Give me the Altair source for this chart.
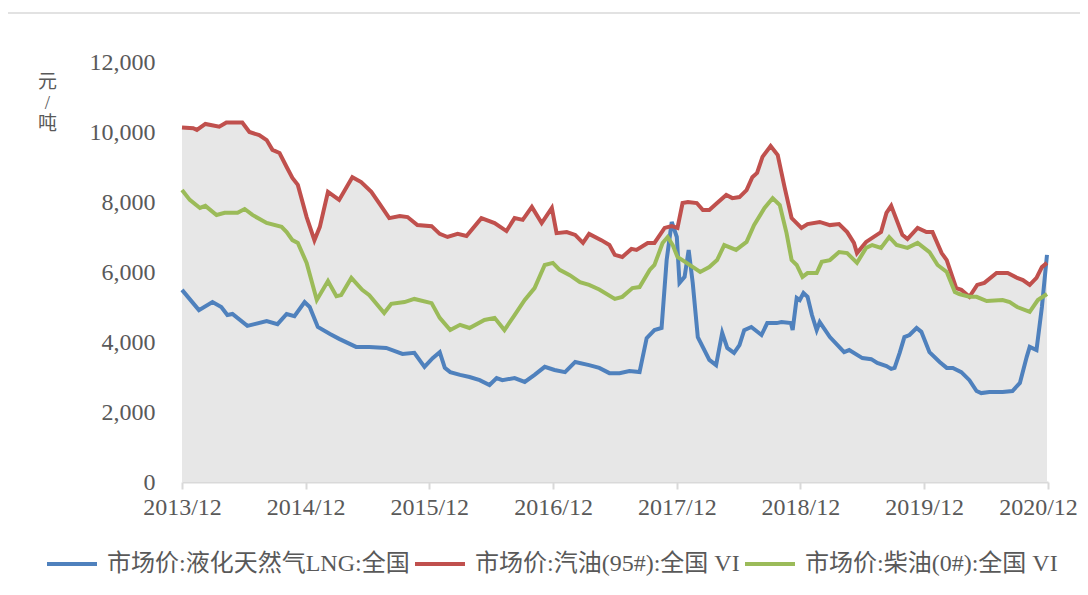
import altair as alt
import pandas as pd

# ---------------- data ----------------
lng_dates = [
    "2013-12-01", "2014-01-20", "2014-03-01", "2014-03-27", "2014-04-14", "2014-04-29",
    "2014-06-12", "2014-08-08", "2014-09-09", "2014-10-06", "2014-10-29", "2014-11-28",
    "2014-12-13", "2015-01-06", "2015-02-11", "2015-03-10", "2015-04-29", "2015-06-07",
    "2015-07-27", "2015-09-13", "2015-10-18", "2015-11-17", "2015-12-11", "2016-01-01",
    "2016-01-16", "2016-02-01", "2016-03-01", "2016-03-29", "2016-04-28", "2016-05-27",
    "2016-06-17", "2016-07-04", "2016-08-09", "2016-09-08", "2016-10-07", "2016-11-06",
    "2016-12-05", "2017-01-05", "2017-02-04", "2017-03-17", "2017-04-16", "2017-05-16",
    "2017-06-15", "2017-07-14", "2017-08-13", "2017-09-03", "2017-09-26", "2017-10-17",
    "2017-11-01", "2017-11-16", "2017-12-01", "2017-12-09", "2017-12-24", "2018-01-05",
    "2018-01-17", "2018-02-01", "2018-03-07", "2018-03-27", "2018-04-14", "2018-04-29",
    "2018-05-19", "2018-06-04", "2018-06-18", "2018-07-09", "2018-08-08", "2018-08-25",
    "2018-09-22", "2018-10-06", "2018-11-03", "2018-11-08", "2018-11-20", "2018-11-29",
    "2018-12-10", "2018-12-22", "2019-01-04", "2019-01-18", "2019-01-27", "2019-02-26",
    "2019-04-09", "2019-04-24", "2019-06-02", "2019-06-28", "2019-07-16", "2019-08-12",
    "2019-08-26", "2019-09-05", "2019-09-20", "2019-10-04", "2019-10-19", "2019-11-09",
    "2019-11-23", "2019-12-17", "2020-01-16", "2020-02-06", "2020-02-24", "2020-03-20",
    "2020-04-13", "2020-05-04", "2020-05-18", "2020-06-11", "2020-07-20", "2020-08-18",
    "2020-09-09", "2020-09-29", "2020-10-08", "2020-10-28", "2020-11-13", "2020-11-28",
]
lng_values = [
    5490, 4910, 5140, 5000, 4770, 4800,
    4460, 4600, 4510, 4800, 4740, 5140,
    5000, 4430, 4230, 4090, 3860, 3860,
    3830, 3660, 3690, 3290, 3540, 3710,
    3260, 3140, 3060, 3000, 2910, 2770,
    2970, 2910, 2970, 2860, 3060, 3290,
    3200, 3140, 3430, 3340, 3260, 3110,
    3110, 3170, 3140, 4110, 4340, 4400,
    6340, 7430, 7000, 5690, 5860, 6630,
    5690, 4140, 3490, 3340, 4260, 3830,
    3690, 3910, 4340, 4430, 4200, 4540,
    4540, 4570, 4540, 4340, 5260, 5200,
    5400, 5290, 4770, 4340, 4570, 4140,
    3710, 3770, 3540, 3510, 3400, 3310,
    3230, 3260, 3690, 4140, 4200, 4400,
    4290, 3710, 3430, 3260, 3260, 3140,
    2910, 2600, 2540, 2570, 2570, 2600,
    2830, 3570, 3860, 3770, 5000, 6490,
]

gas_dates = [
    "2013-12-01", "2014-01-03", "2014-01-14", "2014-02-08", "2014-03-21", "2014-04-11",
    "2014-05-28", "2014-06-18", "2014-07-17", "2014-08-08", "2014-08-25", "2014-09-15",
    "2014-10-06", "2014-10-23", "2014-11-08", "2014-12-04", "2014-12-27", "2015-01-12",
    "2015-02-05", "2015-03-10", "2015-04-18", "2015-05-14", "2015-06-13", "2015-07-06",
    "2015-08-05", "2015-09-05", "2015-09-28", "2015-10-27", "2015-12-08", "2016-01-01",
    "2016-01-24", "2016-02-23", "2016-03-20", "2016-05-03", "2016-06-11", "2016-07-16",
    "2016-08-09", "2016-09-02", "2016-09-29", "2016-10-28", "2016-11-27", "2016-12-11",
    "2017-01-10", "2017-02-04", "2017-02-27", "2017-03-17", "2017-04-22", "2017-05-16",
    "2017-06-01", "2017-06-23", "2017-07-20", "2017-08-04", "2017-09-06", "2017-09-26",
    "2017-10-26", "2017-11-16", "2017-12-03", "2017-12-18", "2018-01-03", "2018-01-29",
    "2018-02-16", "2018-03-07", "2018-03-30", "2018-04-26", "2018-05-14", "2018-06-04",
    "2018-06-25", "2018-07-12", "2018-07-26", "2018-08-11", "2018-09-04", "2018-09-25",
    "2018-10-15", "2018-11-05", "2018-12-04", "2018-12-22", "2019-01-27", "2019-02-26",
    "2019-03-25", "2019-04-18", "2019-05-08", "2019-05-17", "2019-06-13", "2019-07-27",
    "2019-08-12", "2019-08-26", "2019-09-28", "2019-10-13", "2019-11-12", "2019-12-08",
    "2019-12-26", "2020-01-22", "2020-02-06", "2020-03-05", "2020-03-20", "2020-04-13",
    "2020-05-06", "2020-05-27", "2020-07-02", "2020-08-04", "2020-09-01", "2020-09-18",
    "2020-10-08", "2020-10-28", "2020-11-13", "2020-11-28",
]
gas_values = [
    10130, 10110, 10060, 10230, 10150, 10270,
    10270, 10000, 9910, 9770, 9490, 9400,
    9000, 8690, 8490, 7570, 6910, 7290,
    8290, 8060, 8710, 8570, 8290, 7970,
    7540, 7600, 7570, 7340, 7310, 7090,
    7000, 7090, 7030, 7540, 7400, 7170,
    7540, 7490, 7860, 7400, 7830, 7110,
    7140, 7060, 6830, 7090, 6910, 6770,
    6490, 6430, 6660, 6630, 6830, 6830,
    7260, 7310, 7260, 7970, 8000, 7970,
    7770, 7770, 7970, 8200, 8110, 8140,
    8340, 8710, 8830, 9290, 9600, 9340,
    8430, 7540, 7260, 7370, 7430, 7340,
    7370, 7140, 6830, 6540, 6860, 7140,
    7690, 7890, 7060, 6940, 7260, 7140,
    7140, 6540, 6340, 5540, 5490, 5290,
    5630, 5690, 5970, 5970, 5830, 5770,
    5630, 5830, 6140, 6260,
]

diesel_dates = [
    "2013-12-01", "2013-12-24", "2014-01-23", "2014-02-08", "2014-03-13", "2014-04-06",
    "2014-05-14", "2014-06-04", "2014-06-27", "2014-08-08", "2014-09-21", "2014-10-06",
    "2014-10-23", "2014-11-08", "2014-12-04", "2015-01-03", "2015-02-05", "2015-03-02",
    "2015-03-16", "2015-04-15", "2015-05-17", "2015-06-07", "2015-07-21", "2015-08-11",
    "2015-09-19", "2015-10-18", "2015-12-08", "2016-01-01", "2016-02-01", "2016-03-01",
    "2016-03-29", "2016-05-12", "2016-06-11", "2016-07-10", "2016-08-09", "2016-09-08",
    "2016-10-07", "2016-11-06", "2016-11-30", "2016-12-20", "2017-01-19", "2017-02-18",
    "2017-03-17", "2017-04-16", "2017-06-01", "2017-06-23", "2017-07-23", "2017-08-13",
    "2017-09-12", "2017-09-26", "2017-10-20", "2017-11-04", "2017-11-19", "2017-12-03",
    "2017-12-30", "2018-02-08", "2018-03-07", "2018-03-30", "2018-04-20", "2018-05-25",
    "2018-06-25", "2018-07-17", "2018-08-17", "2018-09-10", "2018-10-01", "2018-10-21",
    "2018-11-05", "2018-11-20", "2018-12-07", "2018-12-22", "2019-01-18", "2019-02-02",
    "2019-02-26", "2019-03-25", "2019-04-18", "2019-05-17", "2019-06-13", "2019-07-01",
    "2019-07-27", "2019-08-20", "2019-09-11", "2019-10-13", "2019-11-12", "2019-12-17",
    "2020-01-10", "2020-02-06", "2020-03-01", "2020-03-14", "2020-04-13", "2020-05-04",
    "2020-06-03", "2020-07-20", "2020-08-10", "2020-09-01", "2020-10-08", "2020-11-01",
    "2020-11-28",
]
diesel_values = [
    8340, 8060, 7830, 7890, 7630, 7690,
    7690, 7800, 7630, 7400, 7290, 7140,
    6910, 6830, 6260, 5200, 5740, 5310,
    5340, 5830, 5490, 5340, 4830, 5090,
    5140, 5230, 5110, 4690, 4340, 4490,
    4400, 4630, 4690, 4340, 4770, 5200,
    5540, 6200, 6260, 6060, 5910, 5710,
    5630, 5500, 5230, 5290, 5540, 5570,
    6060, 6200, 6830, 7000, 6770, 6430,
    6260, 6000, 6140, 6340, 6770, 6630,
    6860, 7340, 7830, 8110, 7910, 7110,
    6340, 6200, 5860, 5970, 5970, 6290,
    6340, 6570, 6540, 6260, 6690, 6770,
    6690, 7000, 6770, 6690, 6830, 6570,
    6200, 6000, 5430, 5370, 5290, 5290,
    5170, 5200, 5140, 5000, 4860, 5200,
    5370,
]

series_names = ["市场价:液化天然气LNG:全国", "市场价:汽油(95#):全国 VI", "市场价:柴油(0#):全国 VI"]
series_colors = ["#4F81BD", "#C0504D", "#9BBB59"]
y_ticks = [0, 2000, 4000, 6000, 8000, 10000, 12000]
x_tick_years = [2013, 2014, 2015, 2016, 2017, 2018, 2019, 2020]

# ---------------- tables ----------------
rows = []
for name, ds, vs in zip(series_names,
                        [lng_dates, gas_dates, diesel_dates],
                        [lng_values, gas_values, diesel_values]):
    for d, v in zip(ds, vs):
        rows.append({"date": d, "value": v, "series": name})
lines_df = pd.DataFrame(rows)
gas_df = pd.DataFrame({"date": gas_dates, "value": gas_values})

FONT = "Liberation Serif, Noto Sans CJK SC"
TXT = "#595959"

x_scale = alt.Scale(
    type="utc",
    domain=[alt.DateTime(year=2013, month=12, date=1, utc=True),
            alt.DateTime(year=2020, month=12, date=1, utc=True)],
)
y_scale = alt.Scale(domain=[0, 12000], nice=False)

x_axis = alt.Axis(
    values=[alt.DateTime(year=yr, month=12, date=1, utc=True) for yr in x_tick_years],
    format="%Y/%m", title=None, grid=False,
    domainColor="#d9d9d9", domainWidth=2, tickColor="#d9d9d9", tickWidth=2, tickSize=7,
    labelFont=FONT, labelFontSize=24, labelColor=TXT, labelPadding=6,
    labelOverlap=False, labelFlush=False,
    labelOffset={"condition": {"test": "datum.value > 1600000000000", "value": -10}, "value": 0},
)
y_axis = alt.Axis(
    values=y_ticks, format=",.0f", grid=False, domain=False, ticks=False,
    labelFont=FONT, labelFontSize=24, labelColor=TXT, labelPadding=27,
    title=["元", "/", "吨"], titleAngle=0, titleFont=FONT, titleFontSize=19,
    titleFontWeight="normal", titleColor=TXT, titleX=-135, titleY=10,
    titleAlign="center", titleBaseline="top", titleLineHeight=21,
)

area = alt.Chart(gas_df).mark_area(color="#e7e7e7", interpolate="linear").encode(
    x=alt.X("date:T", scale=x_scale, axis=x_axis),
    y=alt.Y("value:Q", scale=y_scale, axis=y_axis),
)

lines = alt.Chart(lines_df).mark_line(strokeWidth=4, interpolate="linear").encode(
    x=alt.X("date:T", scale=x_scale),
    y=alt.Y("value:Q", scale=y_scale),
    color=alt.Color(
        "series:N",
        scale=alt.Scale(domain=series_names, range=series_colors),
        sort=series_names,
        legend=alt.Legend(
            title=None, orient="none", direction="horizontal",
            legendX=-137, legendY=475,
            symbolType="stroke", symbolSize=2500, symbolStrokeWidth=4,
            labelFont=FONT, labelFontSize=24, labelColor=TXT, labelLimit=500,
            labelOffset=8, columnPadding=-3,
        ),
    ),
)

frame = alt.Chart(pd.DataFrame({"k": [0]})).mark_rect(
    fillOpacity=0, stroke="#d9d9d9", strokeWidth=1.5
).encode(
    x=alt.value(-175), x2=alt.value(1000), y=alt.value(-49), y2=alt.value(700)
)

chart = alt.layer(area, lines, frame).properties(
    width=866, height=420,
    autosize=alt.AutoSizeParams(type="none"),
    padding={"left": 174, "top": 54, "right": 32, "bottom": 100},
).configure_view(stroke=None)

chart.save("out.html", embed_options={"renderer": "svg", "actions": False})
